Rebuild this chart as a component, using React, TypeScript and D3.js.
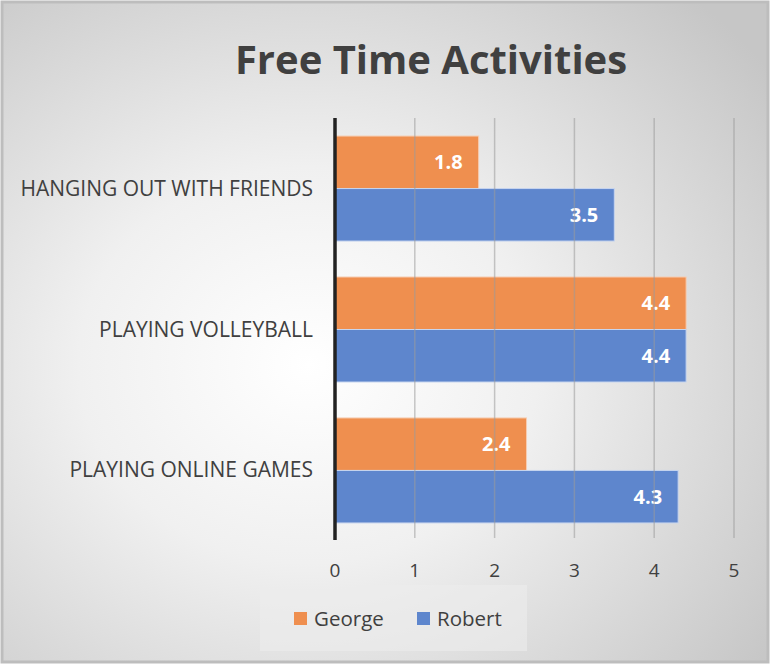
import React from "react";
import * as d3 from "d3";

const categories = ["HANGING OUT WITH FRIENDS", "PLAYING VOLLEYBALL", "PLAYING ONLINE GAMES"];
const seriesNames = ["George", "Robert"];
const george = [1.8, 4.4, 2.4];
const robert = [3.5, 4.4, 4.3];
const xTicks = [0, 1, 2, 3, 4, 5];
const colors = ["#EF8F4F", "#5E86CD"];

const W = 770, H = 664;
const FONT = "'Open Sans', 'Noto Sans', sans-serif";

export default function App() {
  const x = d3.scaleLinear().domain([0, 5]).range([335, 734]);
  const y = d3.scaleBand().domain(categories).range([118, 541]).paddingInner(0.255).paddingOuter(0.128);
  const inner = d3.scaleBand().domain(seriesNames).range([0, y.bandwidth()]);
  const series = [george, robert];
  return (
    <svg width={W} height={H} style={{ position: "absolute", left: 0, top: 0 }}>
      <defs>
        <radialGradient id="bg" cx="0.4" cy="0.55" r="0.75">
          <stop offset="0" stopColor="#ffffff" />
          <stop offset="0.4" stopColor="#f0f0f0" />
          <stop offset="1" stopColor="#c6c6c6" />
        </radialGradient>
      </defs>
      <rect x={2} y={2} width={W - 4} height={H - 4} fill="url(#bg)" stroke="#bdbdbd" strokeWidth={3} />
      <text x={431} y={74} textAnchor="middle" fontFamily={FONT} fontWeight="bold" fontSize={40} fill="#404040">Free Time Activities</text>
      {categories.map((c, ci) =>
        series.map((s, si) => {
          const yy = (y(c) as number) + (inner(seriesNames[si]) as number);
          const h = inner.bandwidth();
          return (
            <g key={c + si}>
              <rect x={x(0)} y={yy} width={x(s[ci]) - x(0)} height={h} fill={colors[si]} />
              <rect x={x(0)} y={yy} width={x(s[ci]) - x(0)} height={h} fill="none" stroke={si === 0 ? "#f6cdb2" : "#c7d5ef"} strokeWidth={1} />
              <text x={x(s[ci]) - 16} y={yy + h / 2 + 7} textAnchor="end" fontFamily={FONT} fontWeight="bold" fontSize={20} fill="#ffffff">{s[ci]}</text>
            </g>
          );
        })
      )}
      {xTicks.filter(t => t > 0).map(t => (
        <line key={t} x1={x(t)} x2={x(t)} y1={118} y2={538} stroke="#9a9a9a" strokeOpacity={0.55} strokeWidth={1.5} />
      ))}
      <line x1={x(0)} x2={x(0)} y1={118} y2={540} stroke="#222" strokeWidth={3.5} />
      {xTicks.map(t => (
        <text key={t} x={x(t)} y={577} textAnchor="middle" fontFamily={FONT} fontSize={19} fill="#404040">{t}</text>
      ))}
      {categories.map(c => (
        <text key={c} x={313} y={(y(c) as number) + y.bandwidth() / 2 + 7} textAnchor="end" fontFamily={FONT} fontSize={21} fill="#404040">{c}</text>
      ))}
      <rect x={260} y={585} width={267} height={66} fill="#ececec" fillOpacity={0.6} />
      {seriesNames.map((n, i) => {
        const lx = [294, 417][i];
        return (
          <g key={n}>
            <rect x={lx} y={612} width={13} height={13} fill={colors[i]} />
            <text x={lx + 20} y={626} fontFamily={FONT} fontSize={20.5} fill="#404040">{n}</text>
          </g>
        );
      })}
    </svg>
  );
}
